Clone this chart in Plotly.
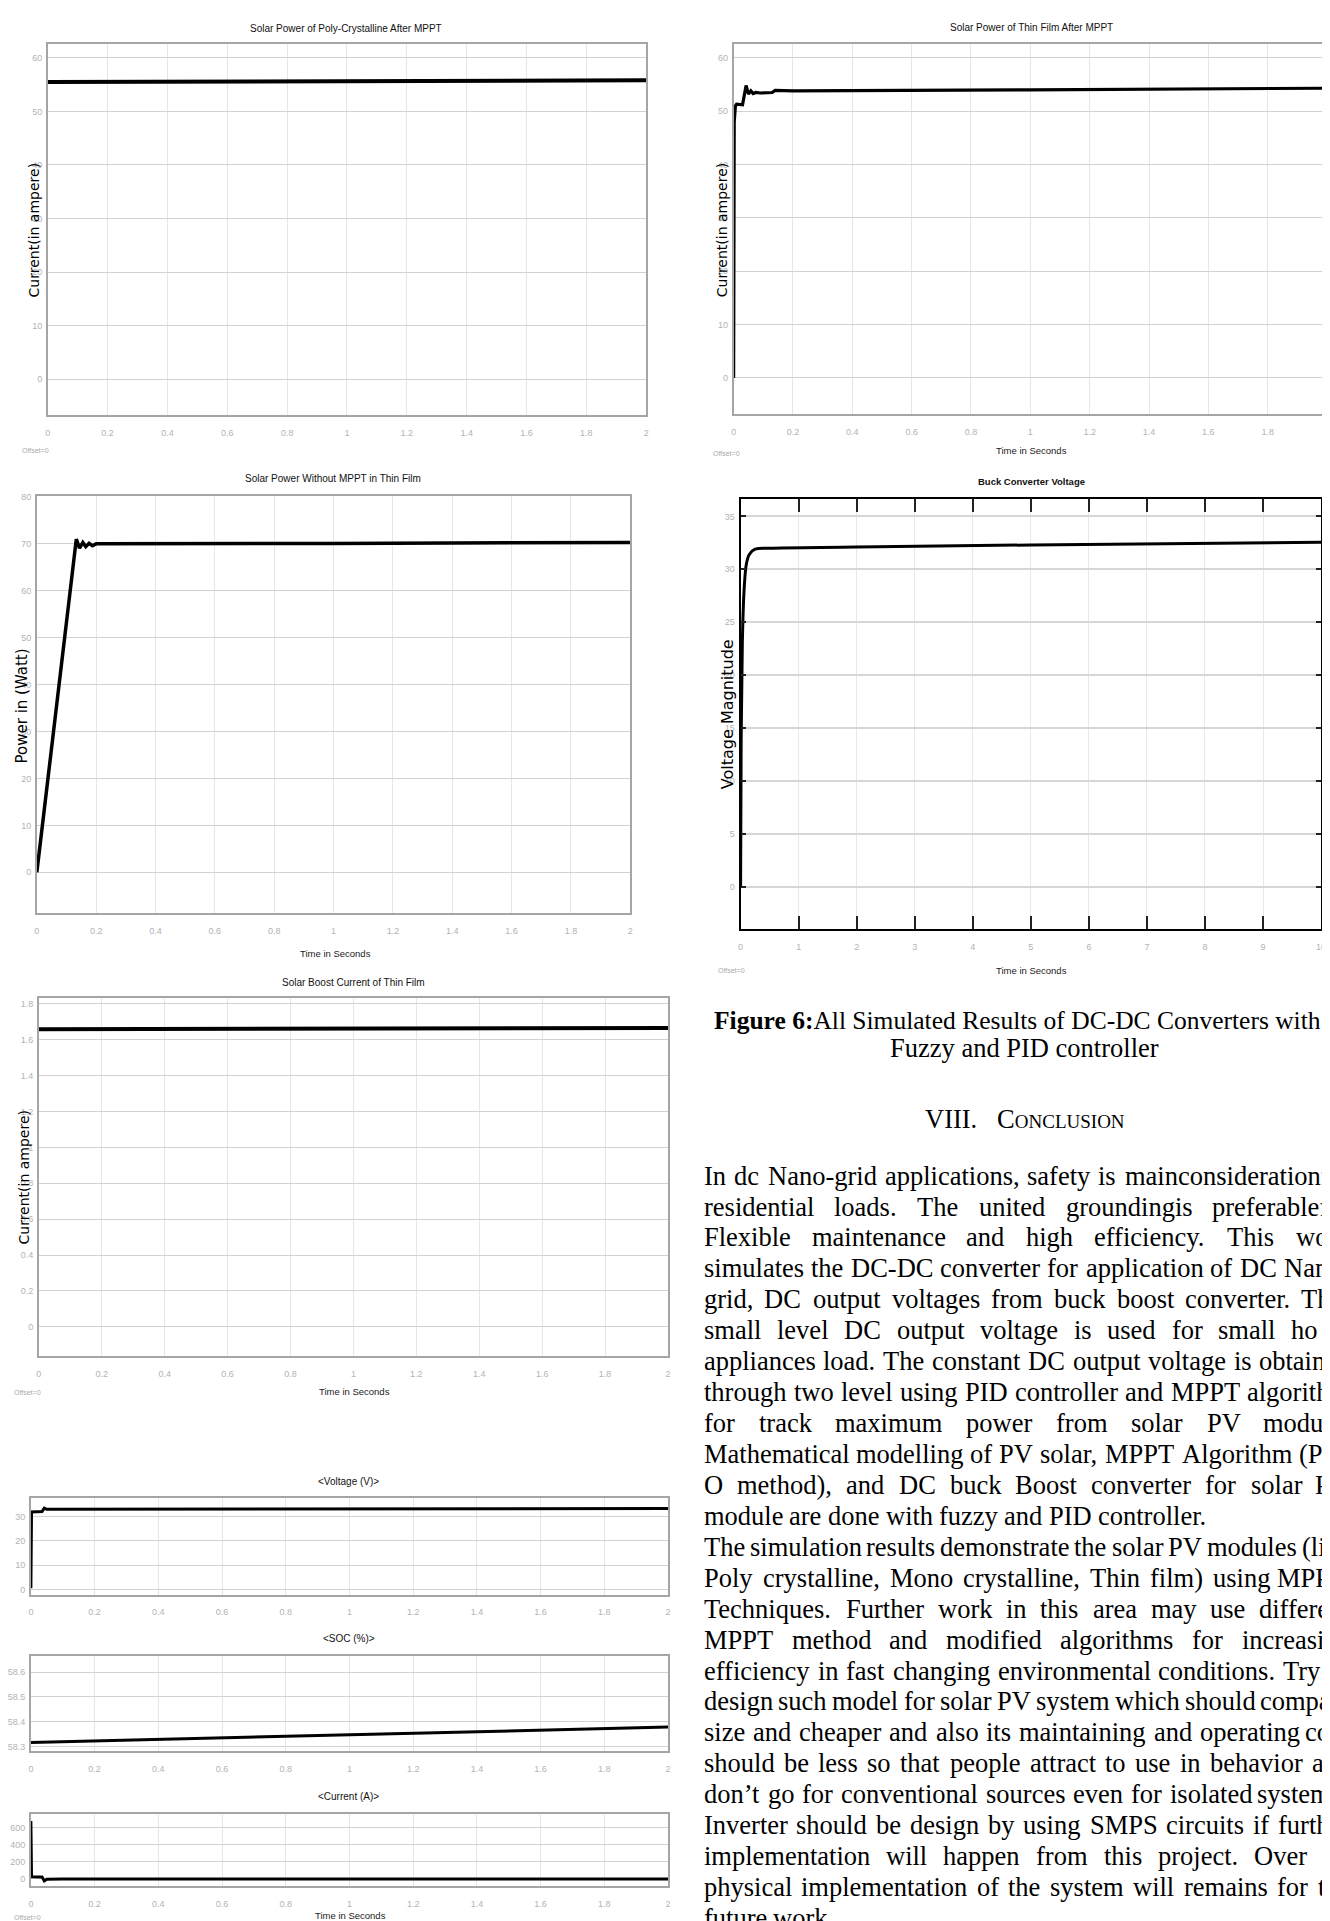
import plotly.graph_objects as go

W, H = 1330, 1921

# ---------------- data ----------------
time_ticks = [0, 0.2, 0.4, 0.6, 0.8, 1, 1.2, 1.4, 1.6, 1.8, 2]
time_tick_labels = ["0", "0.2", "0.4", "0.6", "0.8", "1", "1.2", "1.4", "1.6", "1.8", "2"]
buck_time_ticks = [0, 1, 2, 3, 4, 5, 6, 7, 8, 9, 10]
buck_time_labels = ["0", "1", "2", "3", "4", "5", "6", "7", "8", "9", "10"]

current_ticks = [0, 10, 20, 30, 40, 50, 60]
power_ticks = [0, 10, 20, 30, 40, 50, 60, 70, 80]
buck_ticks = [0, 5, 10, 15, 20, 25, 30, 35]
boost_ticks = [0, 0.2, 0.4, 0.6, 0.8, 1, 1.2, 1.4, 1.6, 1.8]
boost_tick_labels = ["0", "0.2", "0.4", "0.6", "0.8", "1", "1.2", "1.4", "1.6", "1.8"]
volt_ticks = [0, 10, 20, 30]
soc_ticks = [58.3, 58.4, 58.5, 58.6]
soc_tick_labels = ["58.3", "58.4", "58.5", "58.6"]
amp_ticks = [0, 200, 400, 600]

poly_t = [0, 0.5, 1.0, 1.5, 2.0]
poly_v = [55.5, 55.58, 55.65, 55.72, 55.8]

thin_t = [0, 0.002, 0.006, 0.01, 0.03, 0.034, 0.042, 0.05, 0.058, 0.066, 0.075, 0.09, 0.13, 0.14, 0.2, 1.0, 2.0]
thin_v = [0, 48, 51.0, 51.3, 51.2, 52.5, 54.8, 53.2, 53.8, 53.3, 53.5, 53.4, 53.5, 53.9, 53.8, 54.0, 54.3]

nompt_t = [0, 0.133, 0.144, 0.155, 0.165, 0.176, 0.187, 0.2, 1.0, 2.0]
nompt_v = [0, 71.0, 69.1, 70.3, 69.4, 70.1, 69.6, 70.0, 70.1, 70.3]

buck_t = [0, 0.01, 0.03, 0.06, 0.1, 0.15, 0.25, 0.5, 2, 5, 10]
buck_v = [0, 14, 23, 28, 30.5, 31.4, 31.9, 32.0, 32.1, 32.3, 32.55]

boost_t = [0, 1, 2]
boost_v = [1.659, 1.662, 1.665]

batt_t = [0, 0.002, 0.035, 0.042, 0.05, 2]
batt_volt = [0.5, 31.8, 32.0, 33.4, 32.9, 33.2]

soc_t = [0, 1, 2]
soc_v = [58.316, 58.347, 58.378]

amp_t = [0, 0.002, 0.035, 0.042, 0.05, 0.1, 2]
amp_v = [680, 20, 18, -30, -10, -8, -8]

titles = ["Solar Power of Poly-Crystalline After MPPT", "Solar Power of Thin Film After MPPT",
          "Solar Power Without MPPT in Thin Film", "<b>Buck Converter Voltage</b>",
          "Solar Boost Current of Thin Film", "&lt;Voltage (V)&gt;", "&lt;SOC (%)&gt;", "&lt;Current (A)&gt;"]

caption_1 = "<b>Figure 6:</b>All Simulated Results of DC-DC Converters with"
caption_2 = "Fuzzy and PID controller"
paragraph_lines = [
    ("In dc Nano-grid applications, safety is mainconsiderationfor", True),
    ("residential loads. The united groundingis preferablefor", True),
    ("Flexible maintenance and high efficiency. This work", True),
    ("simulates the DC-DC converter for application of DC Nano-", True),
    ("grid, DC output voltages from buck boost converter. This", True),
    ("small level DC output voltage is used for small home", True),
    ("appliances load. The constant DC output voltage is obtained", True),
    ("through two level using PID controller and MPPT algorithm", True),
    ("for track maximum power from solar PV module.", True),
    ("Mathematical modelling of PV solar, MPPT Algorithm (P &", True),
    ("O method), and DC buck Boost converter for solar PV", True),
    ("module are done with fuzzy and PID controller.", False),
    ("The simulation results demonstrate the solar PV modules (like", True),
    ("Poly crystalline, Mono crystalline, Thin film) using MPPT", True),
    ("Techniques. Further work in this area may use different", True),
    ("MPPT method and modified algorithms for increasing", True),
    ("efficiency in fast changing environmental conditions. Try to", True),
    ("design such model for solar PV system which should compact", True),
    ("size and cheaper and also its maintaining and operating cost", True),
    ("should be less so that people attract to use in behavior and", True),
    ("don\u2019t go for conventional sources even for isolated systems.", True),
    ("Inverter should be design by using SMPS circuits if further", True),
    ("implementation will happen from this project. Over all", True),
    ("physical implementation of the system will remains for the", True),
    ("future work.", False),
]

# ---------------- styling ----------------
SANS = "Liberation Sans, Arial, sans-serif"
SERIF = "Liberation Serif, Times New Roman, serif"
WIDE = "DejaVu Sans, Verdana, sans-serif"
TICKFONT = dict(family=SANS, size=9, color="#b3b3b3")

panels = [
    dict(t=poly_t, v=poly_v, box=(37, 32, 639, 404), xr=[0, 2], yr=[-6.7, 62.6],
         xt=time_ticks, xl=time_tick_labels, yt=current_ticks, yl=None, lw=4, dark=False, shape="linear"),
    dict(t=thin_t, v=thin_v, box=(727, 32, 1324, 403), xr=[0, 2], yr=[-6.8, 62.6],
         xt=time_ticks, xl=time_tick_labels, yt=current_ticks, yl=None, lw=3.2, dark=False, shape="linear"),
    dict(t=nompt_t, v=nompt_v, box=(26, 485, 623, 903), xr=[0, 2], yr=[-8.7, 80.2],
         xt=time_ticks, xl=time_tick_labels, yt=power_ticks, yl=None, lw=3.5, dark=False, shape="linear"),
    dict(t=buck_t, v=buck_v, box=(734, 488, 1318, 919), xr=[0, 10], yr=[-3.96, 36.64],
         xt=buck_time_ticks, xl=buck_time_labels, yt=buck_ticks, yl=None, lw=3, dark=True, shape="spline"),
    dict(t=boost_t, v=boost_v, box=(28, 988, 661, 1347), xr=[0, 2], yr=[-0.164, 1.833],
         xt=time_ticks, xl=time_tick_labels, yt=boost_ticks, yl=boost_tick_labels, lw=4, dark=False, shape="linear"),
    dict(t=batt_t, v=batt_volt, box=(20, 1489, 661, 1586), xr=[0, 2], yr=[-2.2, 37.6],
         xt=time_ticks, xl=time_tick_labels, yt=volt_ticks, yl=None, lw=3, dark=False, shape="linear"),
    dict(t=soc_t, v=soc_v, box=(20, 1647, 661, 1743), xr=[0, 2], yr=[58.28, 58.667],
         xt=time_ticks, xl=time_tick_labels, yt=soc_ticks, yl=soc_tick_labels, lw=3, dark=False, shape="linear"),
    dict(t=amp_t, v=amp_v, box=(20, 1806, 661, 1878), xr=[0, 2], yr=[-91, 761],
         xt=time_ticks, xl=time_tick_labels, yt=amp_ticks, yl=None, lw=3, dark=False, shape="linear"),
]

fig = go.Figure()
layout = dict(width=W, height=H, margin=dict(l=0, r=0, t=0, b=0),
              paper_bgcolor="white", plot_bgcolor="white", showlegend=False)

for i, p in enumerate(panels, 1):
    sfx = "" if i == 1 else str(i)
    fig.add_trace(go.Scatter(x=p["t"], y=p["v"], mode="lines",
                             line=dict(color="black", width=p["lw"], shape=p["shape"]),
                             xaxis="x" + sfx, yaxis="y" + sfx, hoverinfo="skip", showlegend=False))
    x0, y0, x1, y1 = p["box"]
    xa = dict(domain=[x0 / W, x1 / W], range=p["xr"], anchor="y" + sfx,
              tickmode="array", tickvals=p["xt"], ticktext=p["xl"], tickfont=TICKFONT,
              showgrid=True, gridcolor="#e6e6e6", gridwidth=1, zeroline=False,
              showline=True, mirror=True, fixedrange=True, ticklabelstandoff=8)
    ya = dict(domain=[1 - y1 / H, 1 - y0 / H], range=p["yr"], anchor="x" + sfx,
              tickmode="array", tickvals=p["yt"], tickfont=TICKFONT,
              showgrid=True, gridcolor="#d2d2d2", gridwidth=1.3, zeroline=False,
              showline=True, mirror=True, fixedrange=True, ticklabelstandoff=2)
    ya["ticktext"] = p["yl"] if p["yl"] is not None else [str(v) for v in p["yt"]]
    if p["dark"]:
        xa.update(linecolor="black", linewidth=2, ticks="inside", ticklen=13, tickwidth=2,
                  tickcolor="#222", mirror="ticks", gridcolor="#e8e8e8")
        ya.update(linecolor="black", linewidth=2, ticks="inside", ticklen=5, tickwidth=2,
                  tickcolor="#222", mirror="ticks", gridcolor="#d6d6d6", gridwidth=2)
    else:
        xa.update(linecolor="#a5a5a5", linewidth=1.5, ticks="")
        ya.update(linecolor="#a5a5a5", linewidth=1.5, ticks="")
    layout["xaxis" + sfx] = xa
    layout["yaxis" + sfx] = ya

annotations = []


def ann(text, x, y, size, color="#000", family=SANS, xanchor="center", yanchor="middle", angle=0):
    annotations.append(dict(text=text, x=x / W, y=1 - y / H, xref="paper", yref="paper",
                            xanchor=xanchor, yanchor=yanchor, showarrow=False, textangle=angle,
                            font=dict(size=size, color=color, family=family)))


# plot titles
title_pos = [(337, 17), (1027, 16), (324, 467), (1027, 470), (345, 973), (340, 1473), (340, 1630), (340, 1788)]
title_size = [10, 10, 10, 9.5, 10, 10, 10, 10]
for txt, (x, y), s in zip(titles, title_pos, title_size):
    ann(txt, x, y, s, color="#111")

# axis labels
ann("Current(in ampere)", 23, 218, 14, family=WIDE, angle=-90)
ann("Current(in ampere)", 715, 218, 14, family=WIDE, angle=-90)
ann("Power in (Watt)", 11, 695, 15, family=WIDE, angle=-90)
ann("Voltage Magnitude", 721, 704, 16, family=WIDE, angle=-90)
ann("Current(in ampere)", 13, 1167, 14, family=WIDE, angle=-90)

for x, y in [(1027, 439), (326, 943), (1027, 961), (346, 1382), (342, 1907)]:
    ann("Time in Seconds", x, y, 9.5, color="#222")

for x, y in [(25, 439), (720, 442), (725, 961), (17, 1383), (17, 1909)]:
    ann("Offset=0", x, y, 7, color="#aaaaaa")

# ---------------- text column ----------------
FS = 26.5
TIMES = {' ': 250, 'a': 444, 'b': 500, 'c': 444, 'd': 500, 'e': 444, 'f': 333, 'g': 500, 'h': 500,
         'i': 278, 'j': 278, 'k': 500, 'l': 278, 'm': 778, 'n': 500, 'o': 500, 'p': 500, 'q': 500,
         'r': 333, 's': 389, 't': 278, 'u': 500, 'v': 500, 'w': 722, 'x': 500, 'y': 500, 'z': 444,
         'A': 722, 'B': 667, 'C': 667, 'D': 722, 'E': 611, 'F': 556, 'G': 722, 'H': 722, 'I': 333,
         'J': 389, 'K': 722, 'L': 611, 'M': 889, 'N': 722, 'O': 722, 'P': 556, 'Q': 722, 'R': 667,
         'S': 556, 'T': 611, 'U': 722, 'V': 722, 'W': 944, 'X': 722, 'Y': 722, 'Z': 611,
         '.': 250, ',': 250, '-': 333, '(': 333, ')': 333, ':': 278, '&': 778, '\u2019': 333}


def cw(c):
    return TIMES.get(c, 500) / 1000.0 * FS


def tw(s):
    return sum(cw(c) for c in s)


ann(caption_1, 705, 1011, 25.5, family=SERIF, xanchor="left")
ann(caption_2, 1020, 1038, FS, family=SERIF)
ann("VIII.\u00a0\u00a0\u00a0C<span style='font-size:19px'>ONCLUSION</span>", 1020, 1109, FS, family=SERIF)

LEFT, RIGHT, EDGE = 695, 1345, 1325
for i, (line, justify) in enumerate(paragraph_lines):
    y = 1166 + i * 31.0
    words = line.split(" ")
    widths = [tw(w) for w in words]
    if justify and len(words) > 1:
        gap = (RIGHT - LEFT - sum(widths)) / (len(words) - 1)
    else:
        gap = tw(" ")
    x = LEFT
    for w, wd in zip(words, widths):
        text, xs = w, x
        if x < EDGE and x + wd > EDGE:
            # the page is cropped at the right edge: keep the glyphs that are visible
            keep, cx = "", x
            for c in w:
                if cx + cw(c) <= EDGE + 4:
                    keep += c
                    cx += cw(c)
                else:
                    break
            text = keep
            if cx > EDGE:
                xs = x - (cx - EDGE)
        if text and x < EDGE:
            ann(text, xs, y, FS, family=SERIF, xanchor="left")
        x += wd + gap

layout["annotations"] = annotations
fig.update_layout(**layout)
fig.write_html("out.html")
